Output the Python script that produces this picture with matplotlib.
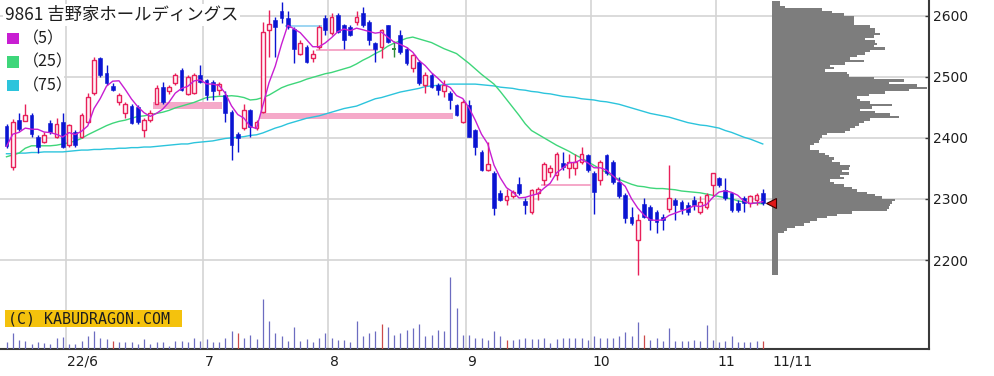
import numpy as np
import pandas as pd
import matplotlib
matplotlib.use("Agg")
import matplotlib.pyplot as plt
from matplotlib.patches import Rectangle

# ---------------- data ----------------
title = "9861 吉野家ホールディングス"
holidays = ["2022-07-18", "2022-08-11", "2022-09-19", "2022-09-23", "2022-10-10", "2022-11-03"]
dates = pd.bdate_range("2022-05-18", "2022-11-11")
dates = dates[~dates.isin(pd.to_datetime(holidays))]

opens = [2419, 2353, 2430, 2428, 2437, 2402, 2394, 2425, 2402, 2426,
         2388, 2410, 2402, 2426, 2473, 2530, 2506, 2485, 2459, 2440,
         2452, 2451, 2413, 2429, 2456, 2483, 2476, 2489, 2511, 2472,
         2473, 2503, 2495, 2492, 2478, 2470, 2443, 2407, 2416, 2446,
         2416, 2443, 2576, 2593, 2607, 2596, 2579, 2538, 2549, 2530,
         2549, 2596, 2571, 2601, 2585, 2582, 2590, 2604, 2590, 2555,
         2549, 2585, 2545, 2568, 2546, 2514, 2525, 2487, 2503, 2486,
         2476, 2473, 2454, 2426, 2454, 2413, 2377, 2347, 2342, 2309,
         2298, 2304, 2325, 2297, 2279, 2309, 2331, 2344, 2339, 2359,
         2350, 2350, 2361, 2372, 2342, 2331, 2372, 2361, 2328, 2306,
         2271, 2233, 2292, 2287, 2279, 2271, 2284, 2298, 2295, 2290,
         2298, 2279, 2287, 2323, 2334, 2314, 2309, 2293, 2301, 2293,
         2298, 2309]
highs = [2423, 2431, 2440, 2456, 2440, 2404, 2410, 2429, 2432, 2440,
         2423, 2413, 2440, 2473, 2533, 2533, 2519, 2489, 2473, 2459,
         2456, 2454, 2432, 2445, 2486, 2492, 2487, 2506, 2514, 2503,
         2506, 2519, 2497, 2495, 2492, 2476, 2446, 2410, 2456, 2448,
         2429, 2590, 2609, 2598, 2623, 2607, 2582, 2560, 2552, 2544,
         2585, 2601, 2604, 2604, 2587, 2585, 2607, 2614, 2593, 2557,
         2579, 2585, 2558, 2577, 2549, 2538, 2527, 2508, 2506, 2489,
         2495, 2476, 2456, 2462, 2462, 2415, 2380, 2394, 2345, 2314,
         2317, 2315, 2336, 2301, 2317, 2320, 2361, 2355, 2377, 2377,
         2374, 2374, 2385, 2374, 2345, 2364, 2374, 2364, 2336, 2309,
         2287, 2276, 2301, 2290, 2282, 2276, 2356, 2301, 2298, 2295,
         2304, 2304, 2309, 2342, 2336, 2334, 2312, 2298, 2304, 2306,
         2309, 2317]
lows = [2383, 2347, 2412, 2428, 2402, 2376, 2391, 2407, 2400, 2383,
        2385, 2385, 2399, 2424, 2470, 2500, 2486, 2476, 2454, 2432,
        2423, 2423, 2402, 2426, 2455, 2456, 2472, 2486, 2476, 2470,
        2472, 2489, 2462, 2462, 2470, 2426, 2363, 2377, 2413, 2402,
        2413, 2440, 2532, 2532, 2588, 2579, 2522, 2536, 2522, 2525,
        2546, 2568, 2568, 2571, 2546, 2566, 2585, 2582, 2552, 2525,
        2530, 2555, 2532, 2538, 2519, 2508, 2486, 2473, 2481, 2470,
        2467, 2448, 2435, 2424, 2401, 2372, 2345, 2345, 2274, 2296,
        2290, 2301, 2306, 2276, 2276, 2298, 2323, 2336, 2331, 2347,
        2334, 2340, 2358, 2344, 2276, 2323, 2339, 2325, 2301, 2260,
        2257, 2176, 2268, 2249, 2244, 2249, 2279, 2265, 2276, 2274,
        2282, 2276, 2284, 2304, 2320, 2298, 2279, 2279, 2279, 2287,
        2290, 2290]
closes = [2386, 2426, 2415, 2437, 2407, 2385, 2404, 2410, 2423, 2385,
          2421, 2388, 2437, 2467, 2527, 2503, 2489, 2478, 2470, 2456,
          2425, 2426, 2429, 2440, 2481, 2459, 2483, 2503, 2478, 2499,
          2503, 2492, 2470, 2476, 2488, 2440, 2388, 2399, 2446, 2418,
          2426, 2574, 2587, 2582, 2596, 2582, 2546, 2555, 2525, 2538,
          2582, 2577, 2598, 2574, 2560, 2568, 2598, 2585, 2560, 2546,
          2576, 2557, 2545, 2541, 2522, 2536, 2489, 2503, 2483, 2478,
          2486, 2462, 2437, 2459, 2402, 2385, 2347, 2358, 2285, 2298,
          2304, 2312, 2309, 2290, 2314, 2317, 2358, 2350, 2374, 2353,
          2361, 2361, 2374, 2347, 2312, 2361, 2342, 2328, 2304, 2268,
          2260, 2265, 2271, 2265, 2263, 2265, 2301, 2290, 2284, 2279,
          2290, 2295, 2306, 2342, 2323, 2301, 2282, 2282, 2293, 2304,
          2306, 2293]
volume = [20, 48, 28, 25, 15, 20, 18, 15, 33, 35,
          15, 15, 25, 38, 53, 33, 30, 25, 20, 20,
          20, 15, 30, 15, 20, 20, 10, 23, 23, 20,
          33, 25, 30, 20, 20, 33, 53, 48, 33, 43,
          30, 150, 85, 48, 38, 25, 65, 25, 30, 20,
          33, 48, 33, 28, 28, 20, 85, 38, 48, 53,
          75, 65, 43, 48, 58, 63, 75, 38, 43, 58,
          53, 216, 123, 43, 43, 33, 33, 28, 53, 38,
          28, 28, 31, 33, 31, 31, 33, 18, 30, 33,
          33, 33, 33, 28, 38, 33, 33, 33, 38, 50,
          38, 81, 43, 28, 33, 23, 63, 23, 23, 23,
          28, 25, 71, 28, 20, 25, 38, 20, 20, 20,
          23, 25]
volume_marked_days = [17, 37, 60, 80, 102, 121]

ma25 = [2369, 2372, 2375, 2383, 2387, 2387, 2387, 2387, 2388, 2390,
        2392, 2395, 2399, 2405, 2410, 2415, 2420, 2424, 2427, 2429,
        2432, 2435, 2436, 2438, 2440, 2442, 2445, 2449, 2452, 2455,
        2458, 2462, 2466, 2467, 2468, 2468, 2469, 2468, 2466, 2462,
        2463, 2466, 2470, 2476, 2482, 2486, 2489, 2492, 2496, 2499,
        2502, 2505, 2507, 2510, 2513, 2516, 2521, 2527, 2532, 2538,
        2543, 2550, 2555, 2559, 2563, 2565, 2562, 2559, 2556, 2551,
        2546, 2542, 2538, 2530, 2522, 2513, 2504, 2496, 2488, 2476,
        2463, 2450, 2437, 2423, 2412, 2406, 2400, 2394, 2388, 2383,
        2378, 2372, 2367, 2361, 2355, 2349, 2343, 2337, 2332, 2328,
        2324, 2321, 2320, 2318, 2317, 2317, 2316, 2315, 2313, 2312,
        2311, 2310, 2308, 2306, 2304, 2302, 2300, 2297, 2295, 2294,
        2293, 2292]
ma75 = [2374, 2374, 2375, 2375, 2376, 2376, 2377, 2377, 2377, 2377,
        2378, 2379, 2380, 2380, 2381, 2381, 2382, 2382, 2383, 2383,
        2384, 2384, 2385, 2385, 2386, 2387, 2388, 2389, 2390, 2390,
        2392, 2393, 2394, 2395, 2397, 2399, 2400, 2401, 2402, 2404,
        2405, 2408, 2412, 2416, 2419, 2423, 2426, 2429, 2432, 2434,
        2436, 2439, 2442, 2445, 2448, 2450, 2452, 2456, 2460, 2464,
        2466, 2469, 2472, 2475, 2477, 2479, 2481, 2484, 2485, 2486,
        2487, 2488, 2488, 2488, 2488, 2488, 2487, 2486, 2485, 2483,
        2482, 2481, 2479, 2478, 2476, 2475, 2473, 2472, 2470, 2468,
        2467, 2466, 2464, 2463, 2462, 2460, 2459, 2457, 2455, 2452,
        2449, 2446, 2443, 2440, 2438, 2436, 2434, 2431, 2428, 2425,
        2423, 2421, 2420, 2418, 2416, 2412, 2409, 2405, 2401, 2398,
        2394, 2390]
ma_labels = ["（5）", "（25）", "（75）"]

# unfilled windows (gaps): start/end in trading-day index, price range
gap_x0 = [23.5, 40.5, 44.5, 49.5, 85.5]
gap_x1 = [34.5, 71.5, 50.5, 59.5, 93.5]
gap_lo = [2448, 2431, 2582, 2543, 2321]
gap_hi = [2459, 2441, 2585, 2546, 2324]
gap_up = [True, True, False, True, True]

price_ticks = [2200, 2300, 2400, 2500, 2600]
month_labels = ["22/6", "7", "8", "9", "10", "11"]
last_label = "11/11"

# price-by-volume profile (4-yen bins, top to bottom)
profile_levels = np.arange(2622, 2177, -4)
profile_vol = [25, 25, 40, 150, 180, 215, 245, 245, 245, 245,
               295, 310, 310, 325, 305, 280, 310, 315, 305, 340,
               295, 280, 255, 235, 275, 220, 175, 185, 160, 225,
               230, 305, 395, 350, 435, 465, 410, 340, 290, 255,
               265, 295, 360, 300, 265, 310, 355, 380, 295, 275,
               260, 250, 235, 220, 165, 150, 145, 140, 125, 115,
               115, 140, 160, 170, 185, 180, 205, 235, 230, 210,
               230, 205, 215, 175, 185, 215, 240, 255, 285, 310,
               330, 370, 360, 355, 350, 345, 240, 195, 165, 135,
               115, 95, 70, 45, 35, 17, 17, 17, 17, 17,
               17, 17, 17, 17, 17, 17, 17, 17, 17, 17,
               17, 17]

# ---------------- styling ----------------
UP_EDGE = "#e8205a"
UP_FACE = "#fff2f6"
DOWN = "#0a14d2"
DOJI = "#2e8b3a"
C_MA = ["#c81ed2", "#3ed67a", "#2cc4dc"]
GRID = "#d4d4d4"
VOL = "#6c6cc0"
VOL_MARK = "#cc4a4a"
GAP_UP = "#f5a9c9"
GAP_DN = "#9fd6f2"
TXT = "#1e1e1e"

W, H = 995, 376
fig = plt.figure(figsize=(W / 100, H / 100), dpi=100)
fig.patch.set_facecolor("white")

R_PX, B_PX = 929, 349
pos = [0, 1 - B_PX / H, R_PX / W, B_PX / H]
ax = fig.add_axes(pos)
ax.set_zorder(0)

x = np.arange(len(closes))
o, hi, lo, c = (np.array(v, float) for v in (opens, highs, lows, closes))
# pixel layout: candle i sits at 6.5 + 6.25*i px
ax.set_xlim(-6.5 / 6.25, (R_PX - 6.5) / 6.25)
ax.set_ylim(2054.3, 2625.7)

# grid
ax.set_yticks(price_ticks)
ax.yaxis.tick_right()
ax.grid(axis="y", color=GRID, lw=1.2, zorder=0)
month_first = [i for i in range(1, len(dates)) if dates[i].month != dates[i - 1].month]
bounds = [i - 0.5 for i in month_first]
for b in bounds:
    ax.axvline(b, color=GRID, lw=1.2, zorder=0)

# gaps
for x0, x1, g0, g1, up in zip(gap_x0, gap_x1, gap_lo, gap_hi, gap_up):
    ax.add_patch(Rectangle((x0, g0), x1 - x0, g1 - g0,
                           facecolor=GAP_UP if up else GAP_DN, edgecolor="none", zorder=1))

# moving averages
ma5 = pd.Series(c).rolling(5, min_periods=1).mean()
ax.plot(x, ma75, color=C_MA[2], lw=1.0, zorder=2)
ax.plot(x, ma25, color=C_MA[1], lw=1.0, zorder=2)
ax.plot(x, ma5, color=C_MA[0], lw=1.0, zorder=5)

# candles
up = c > o
dn = c < o
dj = c == o
wick_col = np.where(up, UP_EDGE, np.where(dn, DOWN, DOJI))
ax.vlines(x, lo, hi, colors=wick_col, lw=1.0, zorder=3)
bot = np.minimum(o, c)
hgt = np.maximum(np.abs(c - o), 1.2)
ax.bar(x[up], hgt[up], bottom=bot[up], width=0.62, facecolor=UP_FACE,
       edgecolor=UP_EDGE, lw=1.0, zorder=4)
ax.bar(x[dn], hgt[dn], bottom=bot[dn], width=0.62, facecolor=DOWN,
       edgecolor=DOWN, lw=0.4, zorder=4)
ax.hlines(c[dj], x[dj] - 0.36, x[dj] + 0.36, colors=DOJI, lw=1.4, zorder=4)

# axes styling
for s in ("left", "top"):
    ax.spines[s].set_visible(False)
for s in ("right", "bottom"):
    ax.spines[s].set_color("#3a3a3a")
    ax.spines[s].set_linewidth(1.5)
ax.tick_params(axis="y", direction="in", length=3, width=1, color="#3a3a3a",
               pad=3, labelsize=10, labelcolor=TXT)
ax.set_yticklabels([str(t) for t in price_ticks])
xt = [b + 0.25 for b in bounds] + [len(closes) + 0.6]
ax.set_xticks(xt)
ax.set_xticklabels(month_labels + [last_label], ha="left")
ax.tick_params(axis="x", length=0, pad=4, labelsize=10, labelcolor=TXT)

# volume
axv = fig.add_axes(pos, sharex=ax)
axv.set_zorder(1)
axv.patch.set_alpha(0)
axv.set_ylim(0, 1047)
vcol = [VOL_MARK if i in volume_marked_days else VOL for i in range(len(volume))]
axv.vlines(x, 0, volume, colors=vcol, lw=0.9)
axv.axis("off")

# volume-by-price profile (one stepped polygon, no seams)
PL = 772
axp = fig.add_axes([PL / W, pos[1], (R_PX - PL) / W, pos[3]])
axp.set_zorder(2)
axp.patch.set_alpha(0)
axp.set_ylim(ax.get_ylim())
axp.set_xlim(0, 471)
lev_up = profile_levels[::-1]
vals_up = np.array(profile_vol, float)[::-1]
edges = np.append(lev_up - 2, lev_up[-1] + 2)
axp.stairs(vals_up, edges, orientation="horizontal", baseline=0, fill=True,
           color="#7d7d7d")
axp.plot([-3], [closes[-1]], marker="<", ms=7, mfc="#e01818", mec="#3c0000",
         mew=0.8, clip_on=False, zorder=6)
axp.axis("off")

# title and legend
fig.text(5 / W, 1 - 15 / H, title, ha="left", va="center", fontsize=12.5, color=TXT,
         family=["Noto Sans CJK JP", "DejaVu Sans"],
         bbox=dict(facecolor="white", edgecolor="none", pad=1.5))
fig.add_artist(Rectangle((0, 1 - 94 / H), 64 / W, 66 / H, transform=fig.transFigure,
                         facecolor="white", edgecolor="none", zorder=2.5))
for k, (lab, col) in enumerate(zip(ma_labels, C_MA)):
    yc = 38.5 + k * 23.5
    fig.add_artist(Rectangle((7 / W, 1 - (yc + 5.5) / H), 12 / W, 11 / H,
                             transform=fig.transFigure, facecolor=col,
                             edgecolor="none", zorder=3))
    fig.text(23 / W, 1 - yc / H, lab, ha="left", va="center", fontsize=11.5, color=TXT,
             family=["Noto Sans CJK JP", "DejaVu Sans"], zorder=3)

# copyright badge
fig.add_artist(Rectangle((5 / W, 1 - 327 / H), 177 / W, 17 / H, transform=fig.transFigure,
                         facecolor="#f4c20d", edgecolor="none", zorder=3))
fig.text(8 / W, 1 - 318.5 / H, "(C) KABUDRAGON.COM", ha="left", va="center",
         fontsize=10.8, color=TXT, family="DejaVu Sans Mono", zorder=4)

fig.savefig("out.png", dpi=100, facecolor="white")
